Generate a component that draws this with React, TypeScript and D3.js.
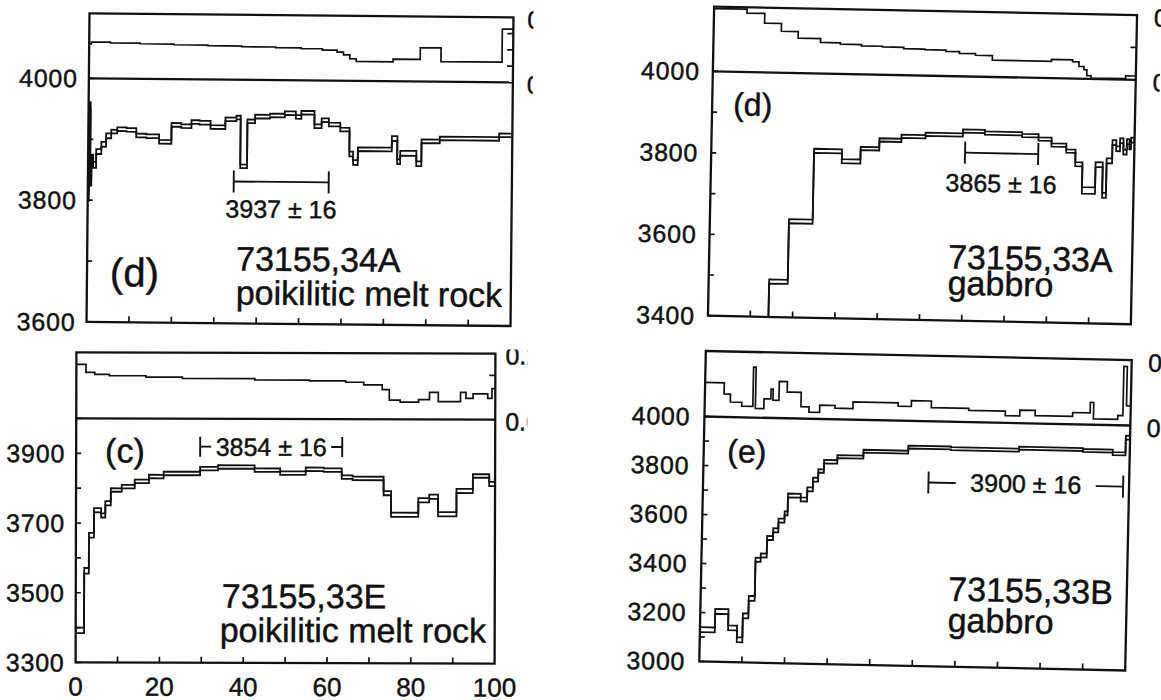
import React from "react";
import * as d3 from "d3";

const FONT = "'Liberation Sans', Arial, Helvetica, sans-serif";

// shared x axis (cumulative % 39Ar released)
const xTickValues = [10, 20, 30, 40, 50, 60, 70, 80, 90];
const xLabelValues = [0, 20, 40, 60, 80, 100];

// ---- (d) 73155,34A poikilitic melt rock ----
const d34Edges = [0, 0.25, 0.5, 0.8, 1.2, 1.9, 3.1, 4.2, 5.4, 6.8, 9.0, 11.3, 13.7, 16.7, 19.6, 21.9, 24.3, 26.2, 28.8, 32.3, 34.9, 35.9, 37.5, 39.3, 42.8, 46.3, 48.9, 50.2, 53.3, 55.0, 56.7, 59.4, 61.6, 62.5, 63.6, 71.6, 72.9, 73.6, 77.4, 78.6, 82.9, 96.9, 100];
const d34Ages = [3805, 3955, 3830, 3870, 3858, 3880, 3892, 3906, 3913, 3917, 3916, 3907, 3906, 3897, 3925, 3923, 3930, 3929, 3922, 3935, 3938, 3858, 3932, 3940, 3942, 3946, 3940, 3947, 3925, 3935, 3928, 3920, 3880, 3866, 3888, 3906, 3868, 3882, 3865, 3902, 3907, 3913];
const d34Err = [6, 6, 6, 5, 5, 4, 4, 4, 3, 3, 3, 3, 3, 3, 3, 3, 3, 3, 3, 3, 3, 3, 3, 3, 3, 3, 3, 3, 3, 3, 3, 3, 4, 4, 3, 4, 4, 4, 4, 3, 3, 3];
const d34RatioEdges = [0, 0.5, 5, 12, 20, 28, 36, 44, 50, 55, 58.5, 60, 61.5, 63, 71.7, 78.1, 83.0, 97.4, 100];
const d34Ratio = [0.53, 0.56, 0.55, 0.54, 0.53, 0.52, 0.51, 0.5, 0.49, 0.47, 0.44, 0.4, 0.34, 0.3, 0.34, 0.52, 0.31, 0.82];
const d34AgeLabels = [3600, 3800, 4000];
const d34AgeTicks = [3600, 3700, 3800, 3900, 4000];
const d34RatioTicks = [0.25, 0.5, 0.75];
const d34Plateau = [34.4, 56.8];

// ---- (d) 73155,33A gabbro ----
const d33aEdges = [0, 14.3, 18.7, 24.3, 30.9, 35.3, 39.7, 44.9, 50.6, 59.4, 64.6, 73.4, 77.3, 80.4, 83.9, 86.1, 87.8, 90.9, 92.6, 93.5, 94.8, 95.7, 96.6, 97.4, 98.2, 98.8, 99.2, 100];
const d33aAges = [3250, 3487, 3636, 3810, 3786, 3818, 3840, 3850, 3856, 3866, 3862, 3858, 3850, 3836, 3822, 3790, 3726, 3790, 3715, 3800, 3845, 3830, 3850, 3822, 3848, 3835, 3852];
const d33aErr = [6, 5, 5, 5, 5, 4, 4, 4, 4, 4, 4, 4, 4, 4, 4, 5, 8, 6, 6, 6, 6, 6, 6, 6, 6, 6, 6];
const d33aRatioEdges = [0, 7.8, 12, 16, 20, 25.3, 30, 35, 40, 45, 50, 55, 58.2, 62, 66, 80, 85, 86.5, 87.7, 88.4, 89.4, 97.6, 100];
const d33aRatio = [0.97, 0.91, 0.76, 0.64, 0.54, 0.48, 0.46, 0.44, 0.43, 0.41, 0.4, 0.38, 0.355, 0.33, 0.26, 0.29, 0.26, 0.19, 0.14, 0.05, 0.015, 0.06];
const d33aAgeLabels = [3400, 3600, 3800, 4000];
const d33aAgeTicks = [3400, 3500, 3600, 3700, 3800, 3900, 4000];
const d33aRatioTicks = [0.5];
const d33aPlateau = [60.0, 77.3];

// ---- (c) 73155,33E poikilitic melt rock ----
const c33eEdges = [0, 2.0, 3.1, 4.3, 6.0, 7.0, 8.3, 10.9, 14.0, 17.4, 20.9, 29.6, 33.9, 42.6, 48.7, 54.8, 59.1, 63.4, 66.0, 73.4, 75.2, 81.7, 84.3, 86.4, 90.8, 94.7, 98.6, 100];
const c33eAges = [3392, 3563, 3665, 3737, 3722, 3757, 3795, 3805, 3820, 3834, 3843, 3857, 3862, 3853, 3845, 3856, 3854, 3834, 3830, 3788, 3726, 3768, 3778, 3728, 3795, 3838, 3815];
const c33eErr = [8, 8, 7, 6, 6, 6, 5, 5, 5, 5, 5, 5, 5, 5, 5, 5, 5, 5, 5, 6, 6, 6, 6, 6, 6, 5, 6];
const c33eRatioEdges = [0, 2.3, 4.4, 7.9, 16.6, 25.3, 42.6, 55.6, 64.3, 68.6, 73.0, 74.7, 77.3, 81.7, 84.3, 86.4, 91.7, 93.0, 94.7, 98.2, 99.2, 100];
const c33eRatio = [0.82, 0.7, 0.67, 0.65, 0.63, 0.61, 0.59, 0.58, 0.56, 0.52, 0.45, 0.29, 0.26, 0.3, 0.41, 0.27, 0.41, 0.32, 0.39, 0.32, 0.47];
const c33eAgeLabels = [3300, 3500, 3700, 3900];
const c33eAgeTicks = [3300, 3400, 3500, 3600, 3700, 3800, 3900, 4000];
const c33eRatioTicks = [0.67];
const c33ePlateau = [29.6, 63.5];

// ---- (e) 73155,33B gabbro ----
const e33bEdges = [0, 3.5, 6.6, 8.7, 10.0, 11.3, 12.7, 13.9, 15.3, 16.7, 17.9, 19.3, 20.0, 23.0, 24.5, 25.8, 27.0, 28.3, 31.4, 37.5, 48.0, 58.0, 74.0, 89.0, 96.0, 99.0, 100];
const e33bAges = [3130, 3206, 3140, 3092, 3190, 3262, 3420, 3438, 3510, 3542, 3582, 3612, 3685, 3670, 3712, 3752, 3788, 3826, 3848, 3872, 3893, 3890, 3898, 3894, 3884, 3950];
const e33bErr = [10, 10, 10, 10, 10, 10, 8, 8, 8, 8, 8, 8, 8, 8, 8, 8, 7, 7, 6, 6, 6, 6, 6, 6, 6, 8];
const e33bRatioEdges = [0, 4.5, 6, 8.7, 11.3, 11.9, 13.9, 15.5, 16.0, 17.4, 19.3, 20.5, 22.6, 24.5, 27, 30.6, 34.8, 45.4, 48.5, 53.2, 62, 70.6, 74, 77.6, 86.4, 90.5, 91.3, 97.0, 98.2, 99.0, 100];
const e33bRatio = [0.52, 0.35, 0.23, 0.17, 0.77, 0.14, 0.29, 0.44, 0.27, 0.56, 0.4, 0.4, 0.18, 0.1, 0.21, 0.17, 0.27, 0.22, 0.31, 0.21, 0.18, 0.11, 0.2, 0.12, 0.18, 0.34, 0.09, 0.15, 0.9, 0.3];
const e33bAgeLabels = [3000, 3200, 3400, 3600, 3800, 4000];
const e33bAgeTicks = [3000, 3100, 3200, 3300, 3400, 3500, 3600, 3700, 3800, 3900, 4000];
const e33bPlateau = [52.9, 98.6];

const ratioLabels = ["0.2", "0.0"];

type Txt = { t: string; x: number; y: number; size: number };

function stepPath(edges: number[], vals: number[], x: any, y: any) {
  const pts: [number, number][] = edges.map((e, i) => [x(e), y(vals[Math.min(i, vals.length - 1)])]);
  return d3.line().curve(d3.curveStepAfter)(pts) || "";
}

function Panel(p: any) {
  const L = p.layout;
  const x = d3.scaleLinear().domain([0, 100]).range([L.x0, L.x1]);
  const y = d3.scaleLinear().domain(p.ageDomain).range([L.bottom, L.div]);
  const r = d3.scaleLinear().domain([0, 1]).range([L.div, L.top]);
  const cx = (L.x0 + L.x1) / 2;
  const cy = (L.top + L.bottom) / 2;
  const hi = p.ages.map((a: number, i: number) => a + p.err[i]);
  const lo = p.ages.map((a: number, i: number) => a - p.err[i]);
  const n = p.ages.length;
  const ends =
    `M${x(p.edges[0])},${y(hi[0])}V${y(lo[0])}` +
    `M${x(p.edges[n])},${y(hi[n - 1])}V${y(lo[n - 1])}`;
  const px0 = x(p.plateau[0]);
  const px1 = x(p.plateau[1]);
  const py = y(L.barAge);
  const pmid = (px0 + px1) / 2;
  const ink = { stroke: "#111", strokeWidth: 0.45 };

  return (
    <g transform={`rotate(${L.rot} ${cx} ${cy})`} fontFamily={FONT} fill="#111">
      <defs>
        <clipPath id={`${p.id}-age`}>
          <rect x={L.x0} y={L.div} width={L.x1 - L.x0} height={L.bottom - L.div} />
        </clipPath>
        <clipPath id={`${p.id}-r`}>
          <rect x={L.x0} y={L.top} width={L.x1 - L.x0} height={L.div - L.top} />
        </clipPath>
        <clipPath id={`${p.id}-lab`}>
          <rect x={L.x1 + 2} y={L.top - L.rClipTop} width={L.rClip - 2} height={L.bottom - L.top + 40} />
        </clipPath>
      </defs>

      {/* ratio step line (upper strip) */}
      <path
        d={stepPath(p.rEdges, p.ratio, x, r)}
        fill="none"
        stroke="#111"
        strokeWidth={1.7}
        clipPath={`url(#${p.id}-r)`}
      />

      {/* age spectrum, drawn as upper and lower error bounds */}
      <g clipPath={`url(#${p.id}-age)`} fill="none" stroke="#111" strokeWidth={1.8}>
        <path d={stepPath(p.edges, hi, x, y)} />
        <path d={stepPath(p.edges, lo, x, y)} />
        <path d={ends} />
      </g>

      {/* frame + divider */}
      <rect x={L.x0} y={L.top} width={L.x1 - L.x0} height={L.bottom - L.top} fill="none" stroke="#111" strokeWidth={2.3} />
      <line x1={L.x0} x2={L.x1} y1={L.div} y2={L.div} stroke="#111" strokeWidth={2.3} />

      {/* ticks */}
      <g stroke="#111" strokeWidth={1.7}>
        {p.ageTicks.map((t: number) => (
          <line key={"a" + t} x1={L.x0} x2={L.x0 + 5} y1={y(t)} y2={y(t)} />
        ))}
        {xTickValues.map((t) => (
          <line key={"x" + t} x1={x(t)} x2={x(t)} y1={L.bottom} y2={L.bottom - 6} />
        ))}
        {p.rTicks.map((t: number) => (
          <line key={"r" + t} x1={L.x1} x2={L.x1 - 6} y1={r(t)} y2={r(t)} />
        ))}
      </g>

      {/* age labels */}
      {p.ageLabels.map((t: number) => (
        <text key={"al" + t} x={L.x0 - L.labGap} y={y(t)} dy="0.36em" textAnchor="end" fontSize={25} letterSpacing={0.8} {...ink}>
          {t}
        </text>
      ))}

      {/* ratio axis labels, cut off at the edge as in the scan */}
      <g clipPath={`url(#${p.id}-lab)`}>
        {ratioLabels.map((t, i) => (
          <text key={"rl" + i} x={L.x1 + L.rLabelDx} y={i === 0 ? L.top + 2 : L.div + 2} dy="0.36em" fontSize={25} {...ink}>
            {t}
          </text>
        ))}
      </g>

      {p.showXLabels &&
        xLabelValues.map((t) => (
          <text key={"xl" + t} x={x(t)} y={L.bottom + 33} textAnchor="middle" fontSize={26} {...ink}>
            {t}
          </text>
        ))}

      {/* plateau bar */}
      <g stroke="#111" strokeWidth={1.9}>
        <line x1={px0} x2={px1} y1={py} y2={py} />
        <line x1={px0} x2={px0} y1={py - L.capH} y2={py + L.capH} />
        <line x1={px1} x2={px1} y1={py - L.capH} y2={py + L.capH} />
      </g>
      {L.knockW > 0 && (
        <rect x={pmid - L.knockW / 2} y={py - 12} width={L.knockW} height={24} fill="#fff" />
      )}
      <text x={pmid} y={py + L.labelDy} textAnchor="middle" fontSize={25} {...ink}>
        {p.plateauText}
      </text>

      {p.texts.map((t: Txt, i: number) => (
        <text key={"t" + i} x={t.x} y={t.y} fontSize={t.size} {...ink}>
          {t.t}
        </text>
      ))}
    </g>
  );
}

export default function App() {
  return (
    <svg
      width={1161}
      height={700}
      viewBox="0 0 1161 700"
      style={{ position: "absolute", left: 0, top: 0, background: "#fff" }}
    >
      <rect width={1161} height={700} fill="#fff" />
      <Panel
        id="p34a"
        layout={{ x0: 88, x1: 512, top: 15.4, div: 80.4, bottom: 324, rot: 0.55, labGap: 11, rLabelDx: 14, rClip: 20, rClipTop: 20, barAge: 3833, capH: 11, labelDy: 36, knockW: 0 }}
        ageDomain={[3600, 4000]}
        edges={d34Edges}
        ages={d34Ages}
        err={d34Err}
        rEdges={d34RatioEdges}
        ratio={d34Ratio}
        ageLabels={d34AgeLabels}
        ageTicks={d34AgeTicks}
        rTicks={d34RatioTicks}
        plateau={d34Plateau}
        plateauText="3937 ± 16"
        showXLabels={false}
        texts={[
          { t: "(d)", x: 111, y: 288, size: 40 },
          { t: "73155,34A", x: 237, y: 271, size: 34 },
          { t: "poikilitic melt rock", x: 237, y: 305, size: 34 },
        ]}
      />
      <Panel
        id="p33a"
        layout={{ x0: 711, x1: 1134, top: 10.8, div: 75.6, bottom: 320, rot: 1.15, labGap: 13, rLabelDx: 17, rClip: 24, rClipTop: 20, barAge: 3813, capH: 11, labelDy: 39, knockW: 0 }}
        ageDomain={[3400, 4000]}
        edges={d33aEdges}
        ages={d33aAges}
        err={d33aErr}
        rEdges={d33aRatioEdges}
        ratio={d33aRatio}
        ageLabels={d33aAgeLabels}
        ageTicks={d33aAgeTicks}
        rTicks={d33aRatioTicks}
        plateau={d33aPlateau}
        plateauText="3865 ± 16"
        showXLabels={false}
        texts={[
          { t: "(d)", x: 732, y: 119, size: 32 },
          { t: "73155,33A", x: 950, y: 268, size: 34 },
          { t: "gabbro", x: 950, y: 294, size: 34 },
        ]}
      />
      <Panel
        id="p33e"
        layout={{ x0: 76, x1: 495, top: 353, div: 419, bottom: 663, rot: 0.15, labGap: 11, rLabelDx: 10, rClip: 32, rClipTop: 4, barAge: 3920, capH: 10, labelDy: 9, knockW: 120 }}
        ageDomain={[3300, 4000]}
        edges={c33eEdges}
        ages={c33eAges}
        err={c33eErr}
        rEdges={c33eRatioEdges}
        ratio={c33eRatio}
        ageLabels={c33eAgeLabels}
        ageTicks={c33eAgeTicks}
        rTicks={c33eRatioTicks}
        plateau={c33ePlateau}
        plateauText="3854 ± 16"
        showXLabels={true}
        texts={[
          { t: "(c)", x: 105, y: 463, size: 34 },
          { t: "73155,33E", x: 222, y: 608, size: 34 },
          { t: "poikilitic melt rock", x: 220, y: 642, size: 34 },
        ]}
      />
      <Panel
        id="p33b"
        layout={{ x0: 702.5, x1: 1128.5, top: 355.5, div: 421, bottom: 666, rot: 1.21, labGap: 14, rLabelDx: 16.5, rClip: 32, rClipTop: 20, barAge: 3750, capH: 11, labelDy: 8, knockW: 140 }}
        ageDomain={[3000, 4000]}
        edges={e33bEdges}
        ages={e33bAges}
        err={e33bErr}
        rEdges={e33bRatioEdges}
        ratio={e33bRatio}
        ageLabels={e33bAgeLabels}
        ageTicks={e33bAgeTicks}
        rTicks={[]}
        plateau={e33bPlateau}
        plateauText="3900 ± 16"
        showXLabels={false}
        texts={[
          { t: "(e)", x: 726, y: 466, size: 32 },
          { t: "73155,33B", x: 950, y: 600, size: 34 },
          { t: "gabbro", x: 950, y: 631, size: 34 },
        ]}
      />
    </svg>
  );
}
